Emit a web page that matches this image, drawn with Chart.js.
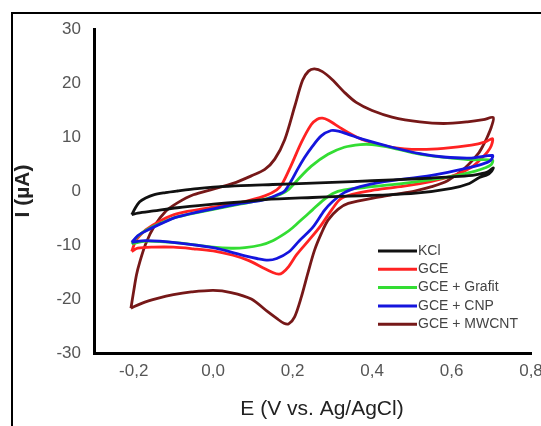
<!DOCTYPE html>
<html>
<head>
<meta charset="utf-8">
<script src="https://cdn.jsdelivr.net/npm/chart.js@4.4.0/dist/chart.umd.min.js"></script>
<style>
  html, body { margin: 0; padding: 0; background: #fff; }
  #wrap { position: relative; width: 541px; height: 426px; overflow: hidden; }
  #frame { position: absolute; left: 11px; top: 12px; width: 600px; height: 500px; border: 2px solid #000; }
  #cv { position: absolute; left: 0; top: 0; }
</style>
</head>
<body>
<div id="wrap">
  <div id="frame"></div>
  <canvas id="cv" width="541" height="426"></canvas>
</div>
<script>
// cyclic voltammograms, [E (V), I (uA)]
const labels = ['KCl', 'GCE', 'GCE + Grafit', 'GCE + CNP', 'GCE + MWCNT'];
const xTicks = [-0.2, 0.0, 0.2, 0.4, 0.6, 0.8];
const yTicks = [-30, -20, -10, 0, 10, 20, 30];

const kcl = [
  [-0.205,-4.4],[-0.195,-3.0],[-0.185,-2.0],[-0.17,-1.3],[-0.15,-0.7],[-0.12,-0.3],[-0.09,0.0],
  [-0.04,0.45],[0.0,0.7],[0.07,1.0],[0.15,1.2],[0.25,1.45],[0.35,1.75],[0.45,2.05],[0.55,2.4],
  [0.62,2.7],[0.66,3.0],[0.69,3.5],[0.705,4.3],
  [0.70,3.6],[0.69,3.0],[0.67,2.5],[0.645,1.4],[0.6,0.5],[0.51,-0.4],[0.42,-0.75],[0.32,-1.0],
  [0.25,-1.2],[0.13,-1.6],[0.07,-2.0],[0.0,-2.45],[-0.09,-3.1],[-0.15,-3.7],[-0.19,-4.1],[-0.205,-4.4]
];
const gce = [
  [-0.205,-11.2],[-0.195,-9.2],[-0.185,-8.3],[-0.17,-7.2],[-0.13,-5.4],[-0.09,-4.2],[0.0,-3.0],
  [0.07,-2.1],[0.13,-0.9],[0.16,0.2],[0.175,1.5],[0.196,4.7],[0.222,9.0],[0.247,12.3],[0.262,13.3],
  [0.275,13.5],[0.29,13.1],[0.32,11.7],[0.35,10.4],[0.38,9.4],[0.45,8.1],[0.52,7.7],[0.58,7.9],
  [0.65,8.5],[0.685,9.1],[0.703,9.7],
  [0.70,8.4],[0.69,7.2],[0.675,6.0],[0.65,4.4],[0.61,3.0],[0.55,1.8],[0.47,0.8],[0.40,0.1],
  [0.35,-0.6],[0.32,-1.5],[0.30,-3.3],[0.27,-6.5],[0.24,-9.2],[0.21,-11.8],[0.19,-14.0],
  [0.175,-15.1],[0.165,-15.4],[0.15,-15.1],[0.125,-14.2],[0.09,-12.9],[0.05,-11.9],[0.0,-11.1],
  [-0.05,-10.7],[-0.10,-10.4],[-0.15,-10.4],[-0.19,-10.6],[-0.205,-11.2]
];
const grafit = [
  [-0.205,-9.8],[-0.19,-8.4],[-0.17,-7.3],[-0.13,-5.9],[-0.09,-4.8],[0.0,-3.4],[0.07,-2.4],
  [0.13,-1.5],[0.17,-0.6],[0.19,0.3],[0.213,2.1],[0.247,4.6],[0.289,6.8],[0.33,8.1],[0.37,8.6],
  [0.40,8.6],[0.45,8.0],[0.50,7.1],[0.55,6.5],[0.6,6.1],[0.65,5.8],[0.703,5.7],
  [0.70,4.9],[0.685,4.3],[0.66,3.7],[0.60,2.7],[0.50,1.6],[0.40,0.8],[0.33,0.2],[0.30,-0.5],
  [0.272,-2.0],[0.25,-3.5],[0.23,-4.8],[0.20,-6.8],[0.18,-7.9],[0.15,-9.2],[0.12,-10.0],
  [0.08,-10.5],[0.045,-10.6],[0.0,-10.4],[-0.09,-9.6],[-0.17,-9.3],[-0.205,-9.8]
];
const cnp = [
  [-0.205,-9.5],[-0.19,-8.3],[-0.18,-7.8],[-0.13,-6.0],[-0.09,-4.8],[0.0,-3.3],[0.07,-2.3],
  [0.13,-1.6],[0.165,-0.6],[0.18,0.0],[0.196,1.8],[0.213,4.1],[0.23,6.2],[0.247,8.0],[0.272,10.2],
  [0.297,11.2],[0.315,11.1],[0.34,10.5],[0.38,9.5],[0.45,8.1],[0.52,6.9],[0.58,6.3],[0.65,6.1],
  [0.703,6.6],
  [0.70,5.8],[0.69,5.3],[0.66,4.6],[0.63,4.1],[0.55,2.9],[0.42,1.6],[0.37,0.8],[0.33,-0.3],
  [0.30,-2.0],[0.28,-3.6],[0.25,-6.8],[0.217,-9.2],[0.19,-11.3],[0.16,-12.5],[0.138,-12.8],
  [0.11,-12.5],[0.08,-12.0],[0.045,-11.3],[0.0,-10.5],[-0.09,-9.6],[-0.17,-9.2],[-0.205,-9.5]
];
const mwcnt = [
  [-0.207,-21.7],[-0.2,-18.5],[-0.193,-15.5],[-0.185,-13.2],[-0.17,-9.8],[-0.148,-6.5],[-0.12,-3.8],
  [-0.09,-2.2],[-0.05,-0.7],[0.0,0.35],[0.05,1.4],[0.096,2.8],[0.13,4.0],[0.155,5.9],[0.18,9.5],
  [0.205,15.6],[0.225,20.5],[0.24,22.2],[0.255,22.6],[0.275,22.1],[0.30,20.6],[0.33,18.3],
  [0.36,16.4],[0.40,14.9],[0.45,13.7],[0.52,12.8],[0.58,12.5],[0.64,12.8],[0.68,13.2],[0.705,13.6],
  [0.70,11.8],[0.69,10.0],[0.68,8.5],[0.667,6.9],[0.633,4.2],[0.59,1.9],[0.55,0.8],[0.507,0.0],
  [0.46,-0.6],[0.42,-1.1],[0.34,-2.3],[0.314,-3.4],[0.289,-5.4],[0.272,-7.9],[0.255,-11.0],
  [0.238,-15.3],[0.222,-19.6],[0.205,-23.3],[0.19,-24.6],[0.178,-24.5],[0.16,-23.6],[0.138,-22.4],
  [0.096,-20.0],[0.045,-18.8],[0.0,-18.4],[-0.055,-18.7],[-0.1,-19.2],[-0.14,-19.9],[-0.18,-20.8],
  [-0.207,-21.7]
];

const series = [kcl, gce, grafit, cnp, mwcnt];
const colors = ['#111111', '#ff2222', '#33dd33', '#1515dd', '#761818'];
const drawOrder = [1, 4, 3, 2, 5];

Chart.defaults.font.family = '"Liberation Sans", Arial, sans-serif';

// legend sits inside the plot, lower right
const legendBox = {
  id: 'legendBox',
  afterDatasetsDraw(chart) {
    const ctx = chart.ctx;
    ctx.save();
    ctx.font = '14px "Liberation Sans", Arial, sans-serif';
    ctx.textBaseline = 'middle';
    chart.data.datasets.forEach((ds, i) => {
      const y = 251 + i * 18.3;
      ctx.strokeStyle = ds.borderColor;
      ctx.lineWidth = 3;
      ctx.beginPath();
      ctx.moveTo(378, y);
      ctx.lineTo(417, y);
      ctx.stroke();
      ctx.fillStyle = '#444';
      ctx.fillText(ds.label, 418, y);
    });
    // x axis title, slightly right of the plot centre as in the figure
    ctx.font = '21px "Liberation Sans", Arial, sans-serif';
    ctx.fillStyle = '#222';
    ctx.textAlign = 'center';
    ctx.fillText('E (V vs. Ag/AgCl)', 322, 409);
    ctx.restore();
  }
};

new Chart(document.getElementById('cv'), {
  type: 'scatter',
  data: {
    datasets: series.map((s, i) => ({
      label: labels[i],
      data: s.map(p => ({ x: p[0], y: p[1] })),
      showLine: true,
      borderColor: colors[i],
      backgroundColor: colors[i],
      borderWidth: 2.8,
      pointRadius: 0,
      tension: 0.3,
      order: drawOrder[i]
    }))
  },
  options: {
    responsive: false,
    animation: false,
    layout: { padding: { top: 29, right: 10, left: 0, bottom: 0 } },
    plugins: { legend: { display: false }, tooltip: { enabled: false } },
    scales: {
      x: {
        type: 'linear',
        min: -0.3,
        max: 0.8,
        grid: { display: false, drawTicks: false },
        border: { color: '#000', width: 3 },
        afterBuildTicks: s => { s.ticks = xTicks.map(v => ({ value: v })); },
        afterFit: s => { s.height = 73; s.paddingLeft = 0; s.paddingRight = 0; },
        ticks: {
          padding: 8,
          color: '#555',
          font: { size: 17 },
          maxRotation: 0,
          callback: v => v.toFixed(1).replace('.', ',')
        }
      },
      y: {
        min: -30,
        max: 30,
        grid: { display: false, drawTicks: false },
        border: { color: '#000', width: 3 },
        afterBuildTicks: s => { s.ticks = yTicks.map(v => ({ value: v })); },
        afterFit: s => { s.width = 94; s.paddingTop = 0; s.paddingBottom = 0; },
        ticks: { padding: 13, color: '#555', font: { size: 17 } },
        title: {
          display: true,
          text: 'I (µA)',
          color: '#222',
          font: { size: 21, weight: 'bold' },
          padding: { top: 11 }
        }
      }
    }
  },
  plugins: [legendBox]
});
</script>
</body>
</html>
